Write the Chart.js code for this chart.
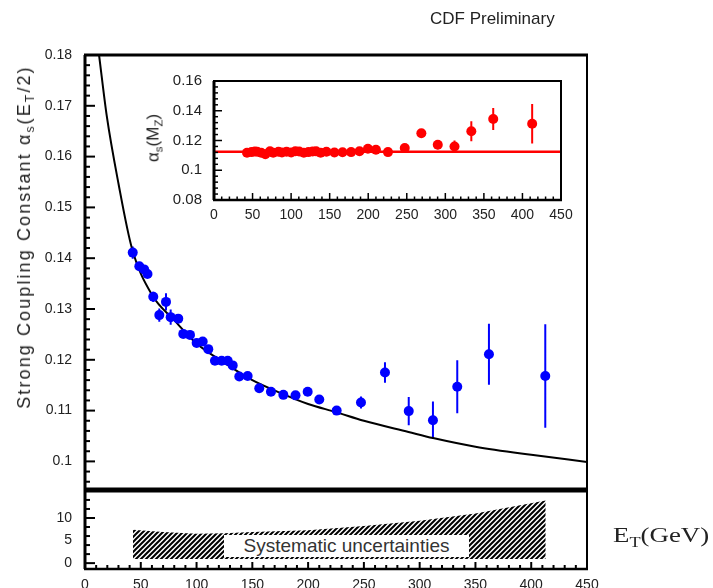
<!DOCTYPE html>
<html>
<head>
<meta charset="utf-8">
<script src="https://cdn.jsdelivr.net/npm/chart.js@4.4.1/dist/chart.umd.min.js"></script>
<style>
  html, body { margin: 0; padding: 0; overflow: hidden; background: #fff; }
  #wrap { position: relative; width: 713px; height: 588px; overflow: hidden;
          font-family: 'Liberation Sans', Arial, sans-serif; color: #222; }
  canvas { position: absolute; }
  .lbl { position: absolute; white-space: nowrap; line-height: 1; }
  .sub { font-size: 0.68em; position: relative; top: 0.32em; }
</style>
</head>
<body>
<div id="wrap">
  <canvas id="mainChart" width="713" height="500" style="left:0;top:0"></canvas>
  <canvas id="sysChart" width="713" height="120" style="left:0;top:480px"></canvas>
  <canvas id="insetChart" width="450" height="160" style="left:140px;top:70px"></canvas>

  <div class="lbl" style="left:430px;top:10px;font-size:17px">CDF Preliminary</div>
  <div class="lbl" style="left:24px;top:237px;font-size:18px;letter-spacing:2.1px;transform:translate(-50%,-50%) rotate(-90deg)">Strong Coupling Constant α<span class="sub">s</span>(E<span class="sub">T</span>/2)</div>
  <div class="lbl" style="left:153px;top:138px;font-size:17px;transform:translate(-50%,-50%) rotate(-90deg)">α<span class="sub">s</span>(M<span class="sub">Z</span>)</div>
  <div class="lbl" style="left:613px;top:524px;font-size:22px;font-family:'Liberation Serif','Times New Roman',serif;transform:scaleX(1.22);transform-origin:left top">E<span class="sub">T</span>(GeV)</div>
  <div class="lbl" style="left:224px;top:535px;width:245px;height:22px;background:#fff;color:#333;font-size:19px;text-align:center;line-height:22px">Systematic uncertainties</div>
</div>

<script>
// jet ET (GeV), shared by main plot and inset
const et = [42.8, 48.7, 53, 56, 61.2, 66.6, 72.6, 76.8, 83.6, 88.1,
  94.1, 100.1, 105.5, 110.5, 116.5, 122.5, 127.9, 132.4, 138.3, 145.8,
  156.2, 166.7, 177.8, 188.7, 199.6, 210, 225.6, 247.4, 268.9, 290.2,
  311.9, 333.7, 362.1, 412.6]

// alpha_s(ET/2)
const alphaEt = [0.1411, 0.1384, 0.1378, 0.1369, 0.1324, 0.1288, 0.1314, 0.1284, 0.1281, 0.1251,
  0.1249, 0.1233, 0.1236, 0.1221, 0.1198, 0.1198, 0.1198, 0.1189, 0.1167, 0.1168,
  0.1144, 0.1137, 0.1131, 0.1130, 0.1137, 0.1122, 0.1100, 0.1116, 0.1175, 0.1099,
  0.1081, 0.1147, 0.1211, 0.1168]
const alphaEtErr = [0.0012, 0.0008, 0.0008, 0.0008, 0.0010, 0.0013, 0.0017, 0.0015, 0.0008, 0.0008,
  0.0008, 0.0008, 0.0008, 0.0008, 0.0008, 0.0008, 0.0008, 0.0008, 0.0008, 0.0008,
  0.0008, 0.0008, 0.0008, 0.0008, 0.0008, 0.0008, 0.0008, 0.0012, 0.0020, 0.0028,
  0.0037, 0.0052, 0.0060, 0.0102]

// alpha_s(MZ) (inset)
const alphaMz = [0.1118, 0.1122, 0.1126, 0.1124, 0.1118, 0.1108, 0.1127, 0.1118, 0.1124, 0.1120,
  0.1124, 0.1120, 0.1128, 0.1126, 0.1118, 0.1122, 0.1126, 0.1127, 0.1118, 0.1124,
  0.1119, 0.1121, 0.1122, 0.1128, 0.1145, 0.1138, 0.1122, 0.1150, 0.1249, 0.1172,
  0.1160, 0.1262, 0.1345, 0.1313]
const alphaMzErr = [0.0008, 0.0008, 0.0008, 0.0008, 0.0008, 0.0008, 0.0008, 0.0008, 0.0008, 0.0008,
  0.0008, 0.0008, 0.0008, 0.0008, 0.0008, 0.0008, 0.0008, 0.0008, 0.0008, 0.0008,
  0.0008, 0.0008, 0.0008, 0.0008, 0.0012, 0.0012, 0.0010, 0.0015, 0.0025, 0.0030,
  0.0040, 0.0067, 0.0074, 0.0133]

// running curve
const curveEt = [12.6, 19.5, 30, 42, 60, 80, 100, 125, 150, 175, 200, 225, 250, 290, 312, 350, 400, 450]
const curveAlpha = [0.18, 0.168, 0.1547, 0.142, 0.1328, 0.1278, 0.1232, 0.1194, 0.1160, 0.1135,
  0.1113, 0.1097, 0.1080, 0.1058, 0.1046, 0.1029, 0.1013, 0.0999]

// inset reference line
const refEt = [0, 450]
const refAlpha = [0.1125, 0.1125]

// systematic uncertainty band (%)
const sysEt = [43, 70, 100, 125, 150, 200, 250, 300, 350, 413]
const sysLow = [0.9, 0.9, 0.9, 0.9, 0.9, 0.9, 0.9, 0.9, 0.9, 0.9]
const sysHigh = [7.4, 6.9, 6.5, 6.6, 6.9, 7.3, 8.2, 9.4, 11.0, 13.9]

// ticks
const mainYTicks = [0.1, 0.11, 0.12, 0.13, 0.14, 0.15, 0.16, 0.17, 0.18]
const mainYLabels = ['0.1', '0.11', '0.12', '0.13', '0.14', '0.15', '0.16', '0.17', '0.18']
const xTicks = [0, 50, 100, 150, 200, 250, 300, 350, 400, 450]
const sysYTicks = [0, 5, 10]
const insetYTicks = [0.08, 0.1, 0.12, 0.14, 0.16]
const insetYLabels = ['0.08', '0.1', '0.12', '0.14', '0.16']

Chart.defaults.font.family = "'Liberation Sans', Arial, sans-serif"
Chart.defaults.color = '#222'
Chart.defaults.animation = false

const pts = (xs, ys) => xs.map((x, i) => ({ x, y: ys[i] }))
const range = (a, b, s) => {
  const out = []
  for (let v = a; v <= b + s / 1000; v += s) out.push(+v.toFixed(6))
  return out
}

// fixed axis box, no automatic label padding
const fixSize = (w, h) => s => {
  if (w != null) s.width = w
  if (h != null) s.height = h
  s.paddingTop = s.paddingBottom = s.paddingLeft = s.paddingRight = 0
}

function hatchPattern() {
  const c = document.createElement('canvas')
  c.width = 5
  c.height = 5
  const g = c.getContext('2d')
  g.strokeStyle = '#000'
  g.lineWidth = 2
  g.beginPath()
  g.moveTo(-1, 6); g.lineTo(6, -1)
  g.moveTo(-1, 1); g.lineTo(1, -1)
  g.moveTo(4, 6); g.lineTo(6, 4)
  g.stroke()
  return g.createPattern(c, 'repeat')
}

// frame lines and inward ticks, placed with the chart's own scales
function frame(cfg) {
  return {
    id: 'frame',
    afterDraw(chart) {
      const { ctx, chartArea: a, scales } = chart
      ctx.save()
      ctx.strokeStyle = '#000'
      const seg = (w, x1, y1, x2, y2) => {
        if (!w) return
        ctx.lineWidth = w
        ctx.beginPath()
        ctx.moveTo(x1, y1)
        ctx.lineTo(x2, y2)
        ctx.stroke()
      }
      const b = cfg.border
      seg(b.top, a.left - 1, a.top, a.right + 1, a.top)
      seg(b.bottom, a.left - 1, a.bottom, a.right + 1, a.bottom)
      seg(b.left, a.left, a.top, a.left, a.bottom)
      seg(b.right, a.right, a.top, a.right, a.bottom)
      for (const t of cfg.yTicks || []) {
        const y = scales.y.getPixelForValue(t.v)
        seg(cfg.tickW, a.left, y, a.left + t.len, y)
      }
      for (const t of cfg.xTicks || []) {
        const x = scales.x.getPixelForValue(t.v)
        seg(cfg.tickW, x, a.bottom, x, a.bottom - t.len)
      }
      ctx.restore()
    }
  }
}

const errorBars = {
  id: 'errorBars',
  beforeDatasetsDraw(chart) {
    const { ctx, chartArea: a } = chart
    ctx.save()
    ctx.beginPath()
    ctx.rect(a.left, a.top, a.width, a.height)
    ctx.clip()
    chart.data.datasets.forEach((ds, i) => {
      if (!ds.errors) return
      const meta = chart.getDatasetMeta(i)
      const ys = chart.scales.y
      ctx.strokeStyle = ds.backgroundColor
      ctx.lineWidth = 2
      ctx.beginPath()
      meta.data.forEach((p, j) => {
        const v = ds.data[j].y
        const e = ds.errors[j]
        ctx.moveTo(p.x, ys.getPixelForValue(v + e))
        ctx.lineTo(p.x, ys.getPixelForValue(v - e))
      })
      ctx.stroke()
    })
    ctx.restore()
  }
}

const minorMain = range(0.096, 0.18, 0.002)
const mainYTickMarks = minorMain.map(v => ({
  v, len: mainYTicks.some(m => Math.abs(m - v) < 1e-6) ? 10 : 5
}))

new Chart(document.getElementById('mainChart'), {
  type: 'scatter',
  data: {
    datasets: [
      {
        data: pts(et, alphaEt),
        errors: alphaEtErr,
        backgroundColor: '#0000ff',
        borderColor: '#0000ff',
        pointRadius: 5,
        pointBorderWidth: 0,
        order: 0,
      },
      {
        type: 'line',
        data: pts(curveEt, curveAlpha),
        borderColor: '#000',
        borderWidth: 2,
        pointRadius: 0,
        cubicInterpolationMode: 'monotone',
        fill: false,
        order: 1,
      },
    ],
  },
  options: {
    responsive: false,
    layout: { autoPadding: false, padding: { left: 0, right: 126, top: 55, bottom: 10 } },
    plugins: { legend: { display: false }, tooltip: { enabled: false } },
    scales: {
      x: { type: 'linear', min: 0, max: 450, display: false },
      y: {
        min: 0.09437, max: 0.18,
        grid: { display: false, drawTicks: false },
        border: { display: false },
        afterFit: fixSize(85, null),
        afterBuildTicks: s => { s.ticks = mainYTicks.map(value => ({ value })) },
        ticks: { padding: 13, font: { size: 14 }, callback: (v, i) => mainYLabels[i] },
      },
    },
  },
  plugins: [errorBars, frame({
    border: { top: 3, left: 3, right: 2 },
    tickW: 2,
    yTicks: mainYTickMarks,
  })],
})

new Chart(document.getElementById('sysChart'), {
  type: 'line',
  data: {
    datasets: [
      { data: pts(sysEt, sysLow), borderWidth: 0, pointRadius: 0, fill: false, tension: 0 },
      { data: pts(sysEt, sysHigh), borderWidth: 0, pointRadius: 0, fill: '-1', tension: 0,
        backgroundColor: hatchPattern() },
    ],
  },
  options: {
    responsive: false,
    layout: { autoPadding: false, padding: { left: 0, right: 126, top: 10, bottom: 0 } },
    plugins: { legend: { display: false }, tooltip: { enabled: false } },
    scales: {
      x: {
        type: 'linear', min: 0, max: 450,
        grid: { display: false, drawTicks: false },
        border: { display: false },
        afterFit: fixSize(null, 31),
        afterBuildTicks: s => { s.ticks = xTicks.map(value => ({ value })) },
        ticks: { padding: 8, font: { size: 14 }, maxRotation: 0, autoSkip: false },
      },
      y: {
        min: -1.3, max: 16.2,
        grid: { display: false, drawTicks: false },
        border: { display: false },
        afterFit: fixSize(85, null),
        afterBuildTicks: s => { s.ticks = sysYTicks.map(value => ({ value })) },
        ticks: { padding: 13, font: { size: 14 } },
      },
    },
  },
  plugins: [frame({
    border: { top: 5, left: 3, right: 2, bottom: 2.5 },
    tickW: 2,
    yTicks: range(0, 16, 2).map(v => ({ v, len: v === 10 || v === 0 ? 10 : 5 })),
    xTicks: range(0, 450, 10).map(v => ({ v, len: v % 50 === 0 ? 7 : 4 })),
  })],
})

new Chart(document.getElementById('insetChart'), {
  type: 'scatter',
  data: {
    datasets: [
      {
        data: pts(et, alphaMz),
        errors: alphaMzErr,
        backgroundColor: '#ff0000',
        borderColor: '#ff0000',
        pointRadius: 5,
        pointBorderWidth: 0,
        order: 0,
      },
      {
        type: 'line',
        data: pts(refEt, refAlpha),
        borderColor: '#ff0000',
        borderWidth: 2.5,
        pointRadius: 0,
        fill: false,
        order: 1,
      },
    ],
  },
  options: {
    responsive: false,
    layout: { autoPadding: false, padding: { left: 0, right: 29, top: 11, bottom: 0 } },
    plugins: { legend: { display: false }, tooltip: { enabled: false } },
    scales: {
      x: {
        type: 'linear', min: 0, max: 450,
        grid: { display: false, drawTicks: false },
        border: { display: false },
        afterFit: fixSize(null, 30),
        afterBuildTicks: s => { s.ticks = xTicks.map(value => ({ value })) },
        ticks: { padding: 7, font: { size: 14 }, maxRotation: 0, autoSkip: false },
      },
      y: {
        min: 0.08, max: 0.16,
        grid: { display: false, drawTicks: false },
        border: { display: false },
        afterFit: fixSize(74, null),
        afterBuildTicks: s => { s.ticks = insetYTicks.map(value => ({ value })) },
        ticks: { padding: 12, font: { size: 15 }, callback: (v, i) => insetYLabels[i] },
      },
    },
  },
  plugins: [errorBars, frame({
    border: { top: 2, left: 3, right: 2, bottom: 2.5 },
    tickW: 1.5,
    yTicks: range(0.08, 0.16, 0.004).map(v => ({ v, len: Math.round(v * 1000) % 20 === 0 ? 8 : 4 })),
    xTicks: range(0, 450, 10).map(v => ({ v, len: v % 50 === 0 ? 7 : 3.5 })),
  })],
})
</script>
</body>
</html>
